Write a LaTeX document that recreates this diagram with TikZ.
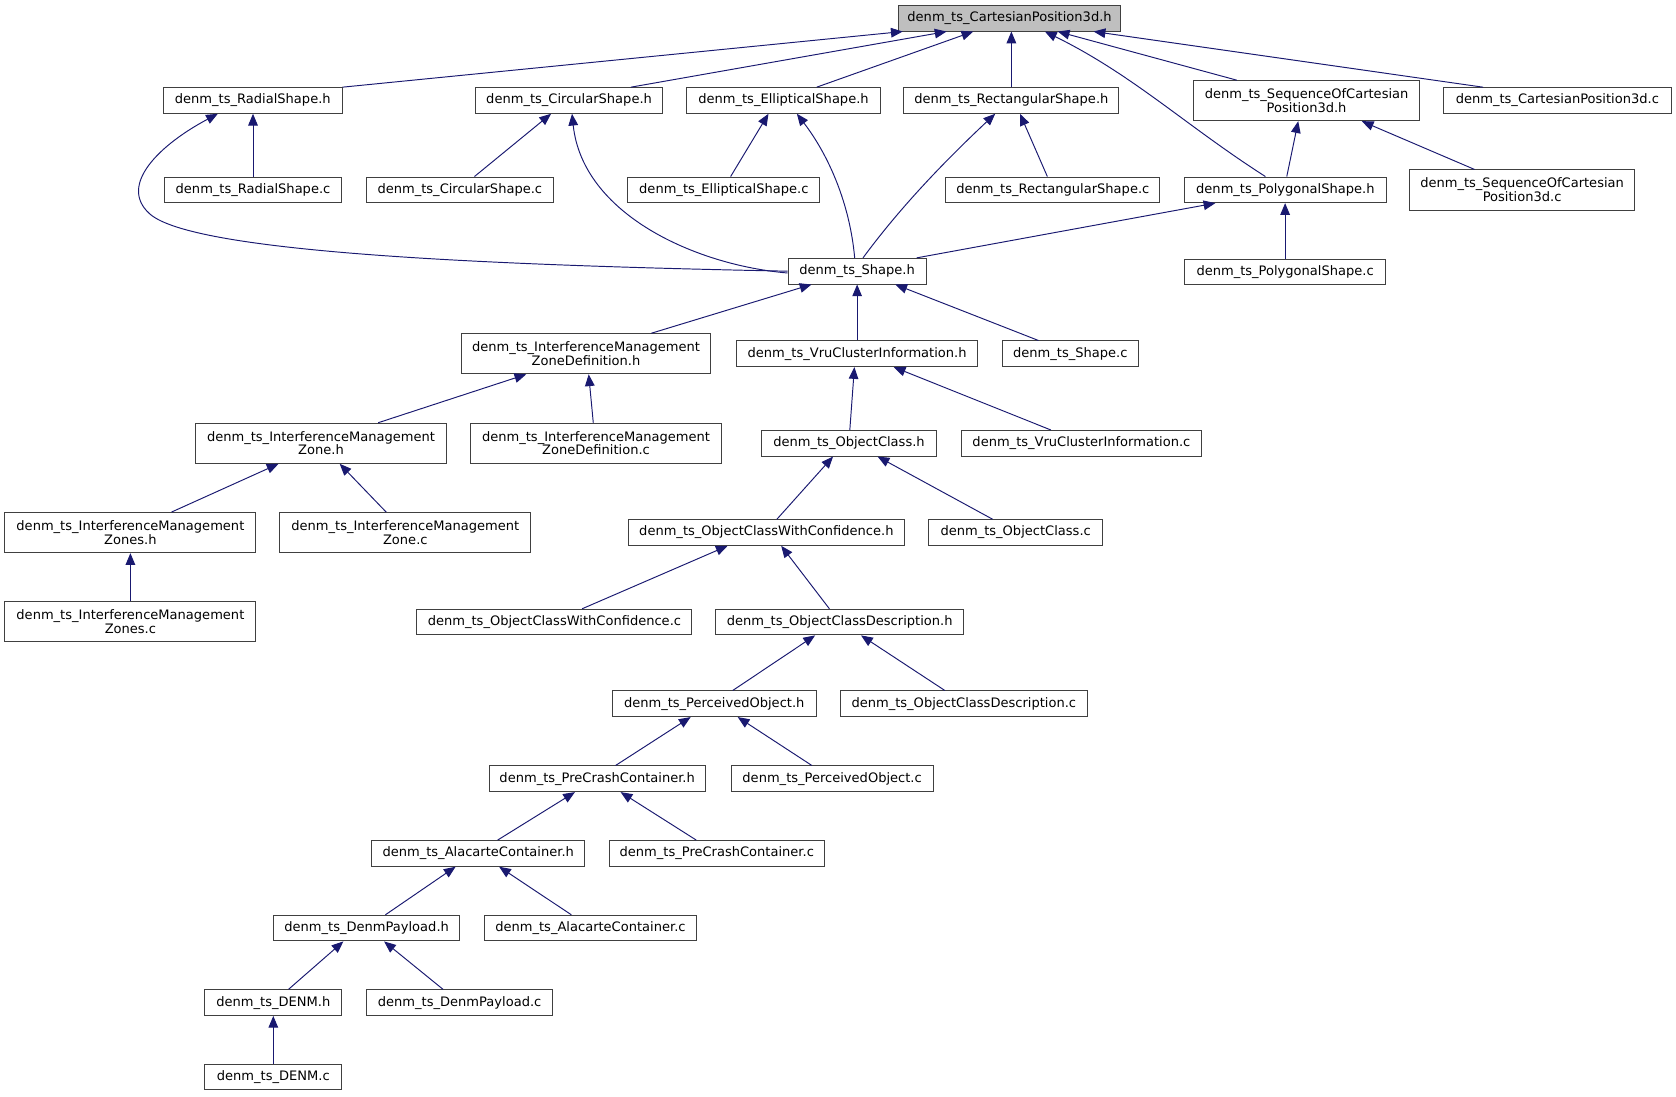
\documentclass[tikz,border=0pt]{standalone}
\usepackage{fontspec}
\setmainfont{DejaVu Sans}
\usetikzlibrary{arrows.meta}
\definecolor{edgeblue}{HTML}{191970}
\definecolor{rootgray}{HTML}{BFBFBF}
\begin{document}
\begin{tikzpicture}[x=1pt,y=-1pt,
  box/.style={draw=black!75, line width=0.9pt, fill=white, inner sep=0pt, align=center,
    font=\fontsize{12.2}{12.8}\selectfont, minimum height=24pt},
  twoline/.style={minimum height=37.5pt},
  dep/.style={draw=edgeblue, line width=0.9pt, -{Triangle[length=11pt,width=9pt]}}]
\useasboundingbox (0,0) rectangle (1568,1026);
% row 1
\node[box, fill=rootgray, minimum width=207pt, minimum height=23.7pt] (cp) at (944.5,17.2) {denm\_ts\_CartesianPosition3d.h};
% row 2
\node[box, minimum width=167pt] (rsh) at (236.5,94) {denm\_ts\_RadialShape.h};
\node[box, minimum width=174.8pt] (csh) at (532.4,94) {denm\_ts\_CircularShape.h};
\node[box, minimum width=181pt] (esh) at (733,94) {denm\_ts\_EllipticalShape.h};
\node[box, minimum width=201pt] (rth) at (946.2,94) {denm\_ts\_RectangularShape.h};
\node[box, twoline, minimum width=211.2pt] (sqh) at (1222.4,94.2) {denm\_ts\_SequenceOfCartesian\\Position3d.h};
\node[box, minimum width=212.8pt] (cpc) at (1457,94) {denm\_ts\_CartesianPosition3d.c};
% row 3
\node[box, minimum width=166pt] (rsc) at (236.7,177.6) {denm\_ts\_RadialShape.c};
\node[box, minimum width=174.5pt] (csc) at (430.2,177.6) {denm\_ts\_CircularShape.c};
\node[box, minimum width=179.6pt] (esc) at (677.2,177.6) {denm\_ts\_EllipticalShape.c};
\node[box, minimum width=200pt] (rtc) at (985,177.6) {denm\_ts\_RectangularShape.c};
\node[box, minimum width=189pt] (psh) at (1202.5,177.6) {denm\_ts\_PolygonalShape.h};
\node[box, twoline, minimum width=211pt] (sqc) at (1424,177.7) {denm\_ts\_SequenceOfCartesian\\Position3d.c};
% row 4
\node[box, minimum width=129.3pt] (shh) at (801.9,253.7) {denm\_ts\_Shape.h};
\node[box, minimum width=188.6pt] (psc) at (1202.3,254.3) {denm\_ts\_PolygonalShape.c};
% row 5
\node[box, twoline, minimum width=233.6pt] (zdh) at (548.2,331) {denm\_ts\_InterferenceManagement\\ZoneDefinition.h};
\node[box, minimum width=226pt] (vch) at (801.9,331) {denm\_ts\_VruClusterInformation.h};
\node[box, minimum width=127pt] (shc) at (1001.3,331) {denm\_ts\_Shape.c};
% row 6
\node[box, twoline, minimum width=234.7pt] (zh) at (300.3,414.7) {denm\_ts\_InterferenceManagement\\Zone.h};
\node[box, twoline, minimum width=234.8pt] (zdc) at (557.6,414.7) {denm\_ts\_InterferenceManagement\\ZoneDefinition.c};
\node[box, minimum width=163.4pt] (och) at (794.3,414.7) {denm\_ts\_ObjectClass.h};
\node[box, minimum width=224.5pt] (vcc) at (1011.7,414.7) {denm\_ts\_VruClusterInformation.c};
% row 7
\node[box, twoline, minimum width=234.7pt] (zsh) at (122,498.3) {denm\_ts\_InterferenceManagement\\Zones.h};
\node[box, twoline, minimum width=234.7pt] (zc) at (379.2,498.3) {denm\_ts\_InterferenceManagement\\Zone.c};
\node[box, minimum width=258pt] (owh) at (717,498.2) {denm\_ts\_ObjectClassWithConfidence.h};
\node[box, minimum width=162.3pt] (occ) at (950.2,498.2) {denm\_ts\_ObjectClass.c};
% row 8
\node[box, twoline, minimum width=234.7pt] (zsc) at (122,581.6) {denm\_ts\_InterferenceManagement\\Zones.c};
\node[box, minimum width=257.3pt] (owc) at (518.7,582) {denm\_ts\_ObjectClassWithConfidence.c};
\node[box, minimum width=232.2pt] (odh) at (785.6,582) {denm\_ts\_ObjectClassDescription.h};
% row 9
\node[box, minimum width=190.4pt] (poh) at (668.2,658.4) {denm\_ts\_PerceivedObject.h};
\node[box, minimum width=231.7pt] (odc) at (901.7,658.4) {denm\_ts\_ObjectClassDescription.c};
% row 10
\node[box, minimum width=202.3pt] (pch) at (558.7,728.6) {denm\_ts\_PreCrashContainer.h};
\node[box, minimum width=189pt] (poc) at (778.5,728.6) {denm\_ts\_PerceivedObject.c};
% row 11
\node[box, minimum width=199pt] (ach) at (447.4,798.4) {denm\_ts\_AlacarteContainer.h};
\node[box, minimum width=201.7pt] (pcc) at (670.6,798.4) {denm\_ts\_PreCrashContainer.c};
% row 12
\node[box, minimum width=174pt] (dph) at (343,868.3) {denm\_ts\_DenmPayload.h};
\node[box, minimum width=198.8pt] (acc) at (552.4,868.3) {denm\_ts\_AlacarteContainer.c};
% row 13
\node[box, minimum width=128pt] (dnh) at (255.7,938) {denm\_ts\_DENM.h};
\node[box, minimum width=174.6pt] (dpc) at (430,938) {denm\_ts\_DenmPayload.c};
% row 14
\node[box, minimum width=128pt] (dnc) at (255.7,1007.6) {denm\_ts\_DENM.c};

% ---- edges (arrow at the included header) ----
\draw[dep] (rsh.north east) -- ([xshift=4pt]cp.south west);
\draw[dep] ([xshift=145.7pt]csh.north west) -- ([xshift=45pt]cp.south west);
\draw[dep] ([xshift=122pt]esh.north west) -- ([xshift=70pt]cp.south west);
\draw[dep] (rth.north) -- (rth.north |- cp.south);
\draw[dep] ([xshift=76.3pt]psh.north west) .. controls (1110,118) and (1060,70) .. ([xshift=137pt]cp.south west);
\draw[dep] ([xshift=40.7pt]sqh.north west) -- ([xshift=149pt]cp.south west);
\draw[dep] ([xshift=37.3pt]cpc.north west) -- ([xshift=182.6pt]cp.south west);

\draw[dep] (rsc.north) -- (rsc.north |- rsh.south);
\draw[dep] (shh.west) .. controls (450,248) and (180,236) .. (140,200)
  .. controls (110,173) and (150,135) .. ([xshift=-32.7pt]rsh.south);
\draw[dep] ([xshift=101.4pt]csc.north west) -- ([xshift=71pt]csh.south west);
\draw[dep] ([yshift=-1.7pt]shh.west) .. controls (650,248) and (545,200) .. ([xshift=90.6pt]csh.south west);
\draw[dep] ([xshift=96.6pt]esc.north west) -- ([xshift=76.9pt]esh.south west);
\draw[dep] ([xshift=62.8pt]shh.north west) .. controls (795,190) and (775,145) .. ([xshift=103.5pt]esh.south west);
\draw[dep] ([xshift=70.6pt]shh.north west) .. controls (845,190) and (890,145) .. ([xshift=85.8pt]rth.south west);
\draw[dep] ([xshift=95.3pt]rtc.north west) -- ([xshift=109pt]rth.south west);
\draw[dep] ([xshift=96.3pt]psh.north west) -- ([xshift=98.2pt]sqh.south west);
\draw[dep] ([xshift=61.4pt]sqc.north west) -- ([xshift=157.7pt]sqh.south west);
\draw[dep] ([xshift=120.8pt]shh.north west) -- ([xshift=29.5pt]psh.south west);
\draw[dep] (psc.north) -- (psc.north |- psh.south);

\draw[dep] ([xshift=178.3pt]zdh.north west) -- ([xshift=22.4pt]shh.south west);
\draw[dep] (vch.north) -- (shh.south);
\draw[dep] ([xshift=34.2pt]shc.north west) -- ([xshift=100.8pt]shh.south west);
\draw[dep] ([xshift=171.3pt]zh.north west) -- ([xshift=61.4pt]zdh.south west);
\draw[dep] ([xshift=115.3pt]zdc.north west) -- ([xshift=119.8pt]zdh.south west);
\draw[dep] ([xshift=82.9pt]och.north west) -- ([xshift=110.9pt]vch.south west);
\draw[dep] ([xshift=84.1pt]vcc.north west) -- ([xshift=147.7pt]vch.south west);
\draw[dep] ([xshift=156.2pt]zsh.north west) -- ([xshift=78.1pt]zh.south west);
\draw[dep] ([xshift=99.9pt]zc.north west) -- ([xshift=135.3pt]zh.south west);
\draw[dep] ([xshift=139.3pt]owh.north west) -- ([xshift=67.2pt]och.south west);
\draw[dep] ([xshift=60pt]occ.north west) -- ([xshift=108.9pt]och.south west);
\draw[dep] (zsc.north) -- (zsh.south);
\draw[dep] ([xshift=155pt]owc.north west) -- ([xshift=93.2pt]owh.south west);
\draw[dep] ([xshift=106.9pt]odh.north west) -- ([xshift=143.3pt]owh.south west);
\draw[dep] ([xshift=113pt]poh.north west) -- ([xshift=93.5pt]odh.south west);
\draw[dep] ([xshift=98.5pt]odc.north west) -- ([xshift=136.5pt]odh.south west);
\draw[dep] ([xshift=118.8pt]pch.north west) -- ([xshift=73.6pt]poh.south west);
\draw[dep] ([xshift=76pt]poc.north west) -- ([xshift=117.6pt]poh.south west);
\draw[dep] ([xshift=118.1pt]ach.north west) -- ([xshift=80.8pt]pch.south west);
\draw[dep] ([xshift=82.1pt]pcc.north west) -- ([xshift=123.5pt]pch.south west);
\draw[dep] ([xshift=105pt]dph.north west) -- ([xshift=78.8pt]ach.south west);
\draw[dep] ([xshift=82pt]acc.north west) -- ([xshift=119.5pt]ach.south west);
\draw[dep] ([xshift=78.7pt]dnh.north west) -- ([xshift=65.7pt]dph.south west);
\draw[dep] ([xshift=72.2pt]dpc.north west) -- ([xshift=103.8pt]dph.south west);
\draw[dep] (dnc.north) -- (dnh.south);
\end{tikzpicture}
\end{document}
